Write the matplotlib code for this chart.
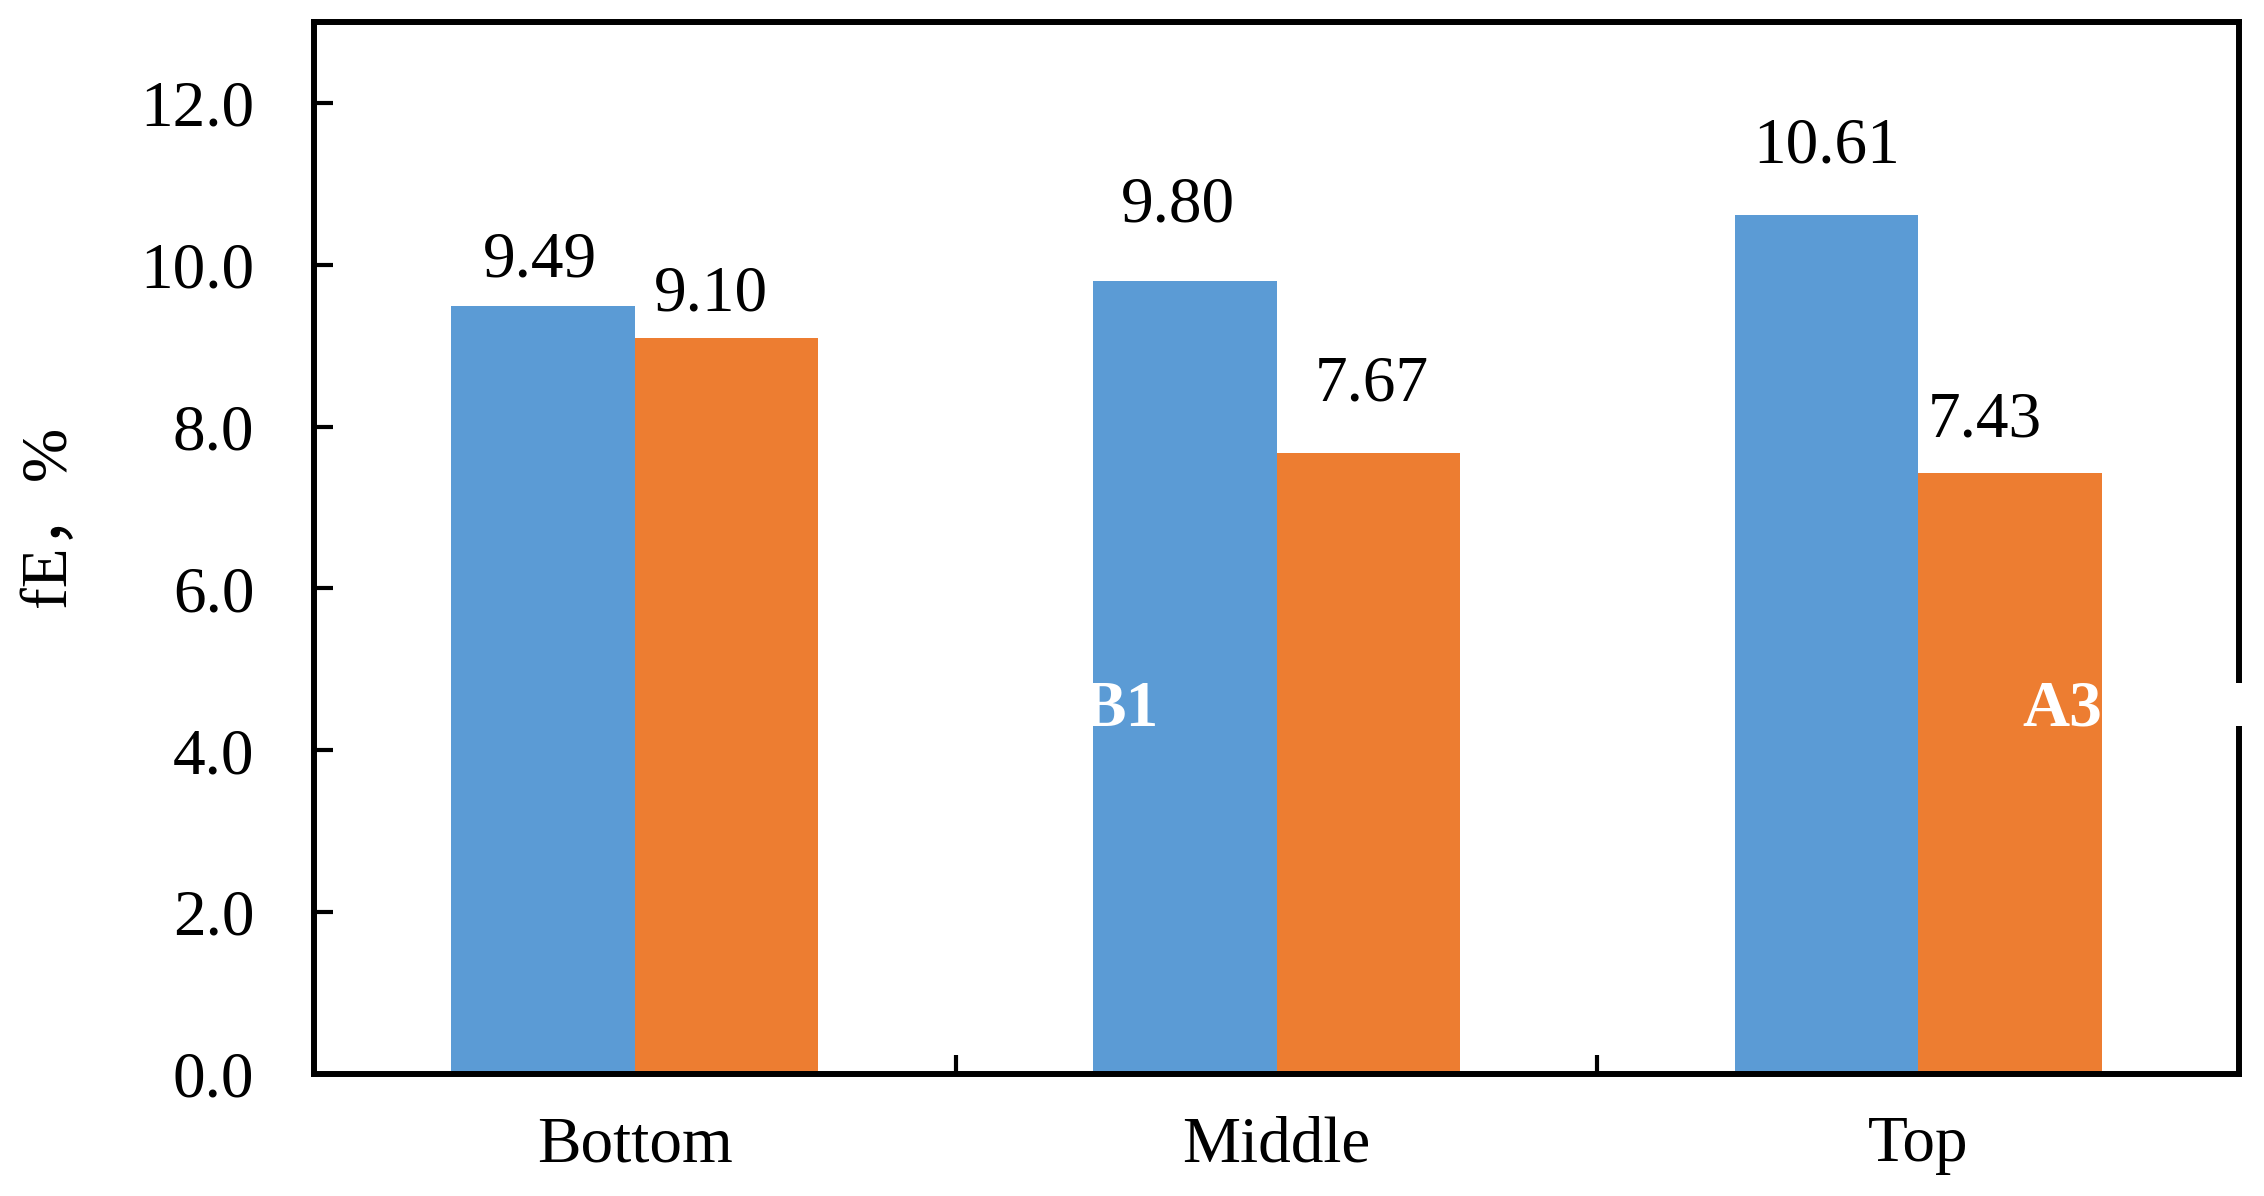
import matplotlib
matplotlib.use("Agg")
import matplotlib.pyplot as plt
import numpy as np

categories = ["Bottom", "Middle", "Top"]
series_blue = [9.49, 9.80, 10.61]
series_orange = [9.10, 7.67, 7.43]
blue_labels = ["9.49", "9.80", "10.61"]
orange_labels = ["9.10", "7.67", "7.43"]
y_ticks = [0, 2, 4, 6, 8, 10, 12]

plt.rcParams['font.family'] = ['Liberation Serif', 'Noto Sans CJK SC', 'DejaVu Sans']

fig = plt.figure(figsize=(22.64, 11.96), dpi=100)
ax = fig.add_axes([0.1387, 0.102, 0.989 - 0.1387, 0.9816 - 0.102])

x = np.arange(len(categories))
w = 0.286
ax.bar(x - w / 2, series_blue, width=w, color="#5B9BD5", zorder=2)
ax.bar(x + w / 2, series_orange, width=w, color="#ED7D31", zorder=2)

fs = 47
# value labels (manually offset as in the reference)
blue_off = [0.56, 0.93, 0.85]
orange_off = [0.53, 0.85, 0.64]
blue_dx = [-0.005, -0.01, 0.0]
orange_dx = [-0.025, 0.005, -0.04]
for i in range(len(categories)):
    ax.text(x[i] - w / 2 + blue_dx[i], series_blue[i] + blue_off[i], blue_labels[i],
            ha="center", va="center", fontsize=fs)
    ax.text(x[i] + w / 2 + orange_dx[i], series_orange[i] + orange_off[i], orange_labels[i],
            ha="center", va="center", fontsize=fs)

# white stray labels
ax.text(0.757, 4.5, "B1", color="white", fontweight="bold", ha="center", va="center", fontsize=fs, zorder=5)
ax.text(2.225, 4.5, "A3", color="white", fontweight="bold", ha="center", va="center", fontsize=fs, zorder=5)
ax.text(2.482, 4.5, "H", color="white", fontweight="bold", ha="left", va="center", fontsize=fs, zorder=5,
        clip_on=False)

ax.set_xlim(-0.5, 2.5)
ax.set_ylim(0, 13)
ax.set_yticks(y_ticks)
ax.set_yticklabels([f"{v:.1f}" for v in y_ticks])
ax.set_xticks(x)
ax.set_xticklabels(categories)
ax.set_xticks([0.5, 1.5], minor=True)

ax.tick_params(axis="y", direction="in", length=14, width=3, labelsize=fs, pad=43)
ax.tick_params(axis="x", which="major", length=0, labelsize=fs, pad=30)
ax.tick_params(axis="x", which="minor", direction="in", length=14, width=3)

for s in ax.spines.values():
    s.set_linewidth(4.3)
    s.set_color("black")

ax.set_ylabel("fE，%", fontsize=fs)
ax.yaxis.set_label_coords(-0.122, 0.53)

fig.savefig("out.png", dpi=100, facecolor="white")
